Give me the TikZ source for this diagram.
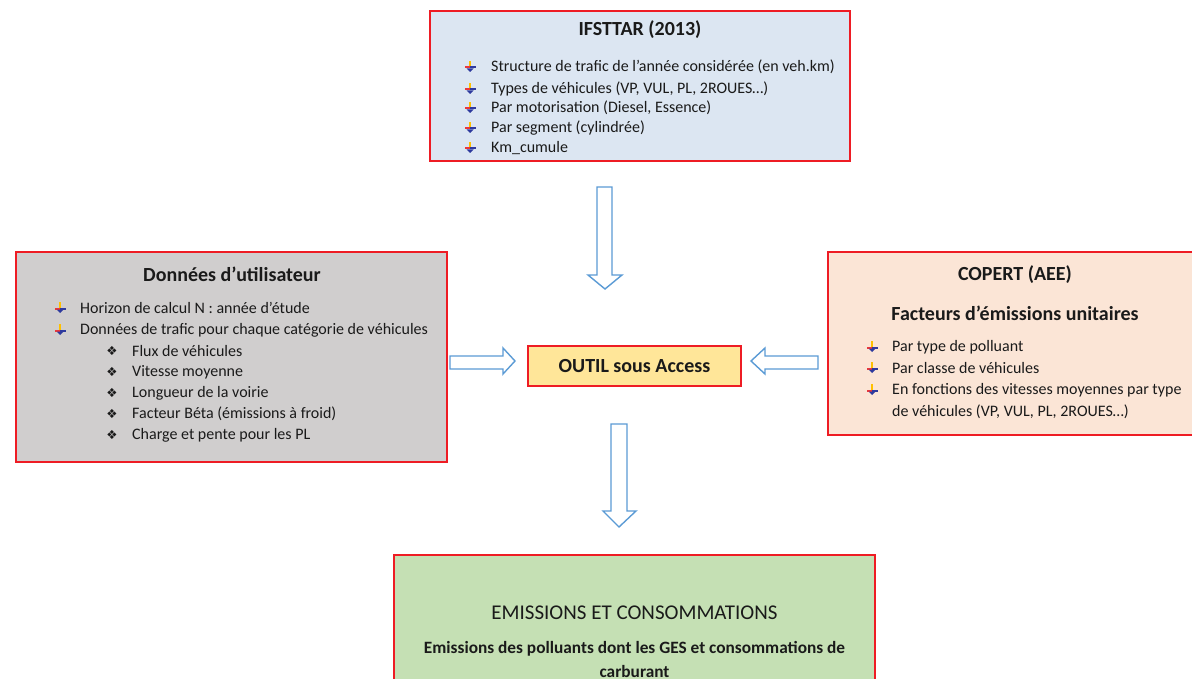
\documentclass[tikz,border=0pt]{standalone}
\usepackage{fontspec}
\setmainfont{Carlito}
\newfontfamily\djv{DejaVu Sans}
\definecolor{bxblue}{HTML}{DCE6F2}
\definecolor{bxgray}{HTML}{D0CECE}
\definecolor{bxpeach}{HTML}{FBE5D6}
\definecolor{bxyellow}{HTML}{FFE699}
\definecolor{bxgreen}{HTML}{C5E0B4}
\definecolor{bxred}{HTML}{EE1C24}
\definecolor{arblue}{HTML}{5B9BD5}
\definecolor{txt}{HTML}{1A1A1A}
\definecolor{bulyel}{HTML}{FFC000}
\definecolor{bulred}{HTML}{E8383D}
\definecolor{bulblue}{HTML}{2E3A9E}
\tikzset{
  box/.style={draw=bxred, line width=2pt},
  blockarrow/.style={draw=arblue, fill=white, line width=1.4pt, line join=miter},
  itm/.style={anchor=west, inner sep=0pt, font=\fontsize{16}{18}\selectfont, text=txt},
  ttl/.style={inner sep=0pt, font=\bfseries\fontsize{20}{22}\selectfont, text=txt},
  bul/.pic={
    \fill[bulyel] (-1,-6) rectangle (1,-0.5);
    \fill[bulred] (-5.5,-0.5) rectangle (0,1.5);
    \fill[bulblue] (0,-0.5) rectangle (5.5,1.5);
    \fill[bulblue] (-3.5,1.5) -- (3.5,1.5) -- (0,5) -- cycle;
  },
  dia/.style={anchor=center, inner sep=0pt, font=\djv\fontsize{12.5}{14}\selectfont, text=txt}
}
\begin{document}
\begin{tikzpicture}[x=1pt,y=-1pt]
\useasboundingbox (0,0) rectangle (1192,679);
\clip (0,0) rectangle (1192,679);
\fill[white] (0,0) rectangle (1192,679);
% boxes
\draw[box, fill=bxblue] (430,11) rectangle (850,161);
\draw[box, fill=bxgray] (16,252) rectangle (447,462);
\draw[box, fill=bxpeach] (828,252) rectangle (1200,435);
\draw[box, fill=bxyellow] (528,346) rectangle (741,386);
\draw[box, fill=bxgreen] (394,555) rectangle (875,700);
% IFSTTAR
\node[ttl] (t1) at (640,30) {IFSTTAR (2013)};
\foreach \yy/\tx [count=\i] in {67/{Structure de trafic de l’année considérée (en veh.km)},
  89/{Types de véhicules (VP, VUL, PL, 2ROUES…)},
  108/{Par motorisation (Diesel, Essence)},
  128/{Par segment (cylindrée)},
  148/{Km\_cumule}}{
  \pic at (470,\yy) {bul};
  \node[itm] (i\i) at (491,\yy) {\tx};
}
% Donnees
\node[ttl] (t2) at (232,274) {Données d’utilisateur};
\pic at (60,308) {bul};
\node[itm] (d1) at (80,308) {Horizon de calcul N : année d’étude};
\pic at (60,330) {bul};
\node[itm] (d2) at (80,330) {Données de trafic pour chaque catégorie de véhicules};
\foreach \yy/\tx [count=\i] in {351/{Flux de véhicules},
  372/{Vitesse moyenne},
  393/{Longueur de la voirie},
  414/{Facteur Béta (émissions à froid)},
  435/{Charge et pente pour les PL}}{
  \node[dia] at (112,\yy) {❖};
  \node[itm] (s\i) at (132,\yy) {\tx};
}
% COPERT
\node[ttl] (t3) at (1015,275) {COPERT (AEE)};
\node[ttl] (t3b) at (1015,313) {Facteurs d’émissions unitaires};
\pic at (872,347) {bul};
\node[itm] (c1) at (892,347) {Par type de polluant};
\pic at (872,368) {bul};
\node[itm] (c2) at (892,368) {Par classe de véhicules};
\pic at (872,390) {bul};
\node[itm] (c3) at (892,390) {En fonctions des vitesses moyennes par type};
\node[itm] (c4) at (892,412) {de véhicules (VP, VUL, PL, 2ROUES…)};
% OUTIL
\node[ttl] (outil) at (634.5,366) {OUTIL sous Access};
% EMISSIONS
\node[inner sep=0pt, font=\fontsize{21}{24}\selectfont, text=txt] (e1) at (634.5,613) {EMISSIONS ET CONSOMMATIONS};
\node[inner sep=0pt, font=\bfseries\fontsize{17.3}{20}\selectfont, text=txt] (e2) at (634.5,649) {Emissions des polluants dont les GES et consommations de};
\node[inner sep=0pt, font=\bfseries\fontsize{17.3}{20}\selectfont, text=txt] (e3) at (634.5,671) {carburant};
% arrows
\draw[blockarrow] (597,187) -- (612,187) -- (612,275) -- (622,275) -- (605,289) -- (588,275) -- (597,275) -- cycle;
\draw[blockarrow] (611,424) -- (627,424) -- (627,511) -- (636,511) -- (619,527) -- (603,511) -- (611,511) -- cycle;
\draw[blockarrow] (450,356) -- (503,356) -- (503,348) -- (515,361) -- (503,374) -- (503,369) -- (450,369) -- cycle;
\draw[blockarrow] (818,356) -- (765,356) -- (765,348) -- (751,361) -- (765,374) -- (765,369) -- (818,369) -- cycle;
\end{tikzpicture}
\end{document}
